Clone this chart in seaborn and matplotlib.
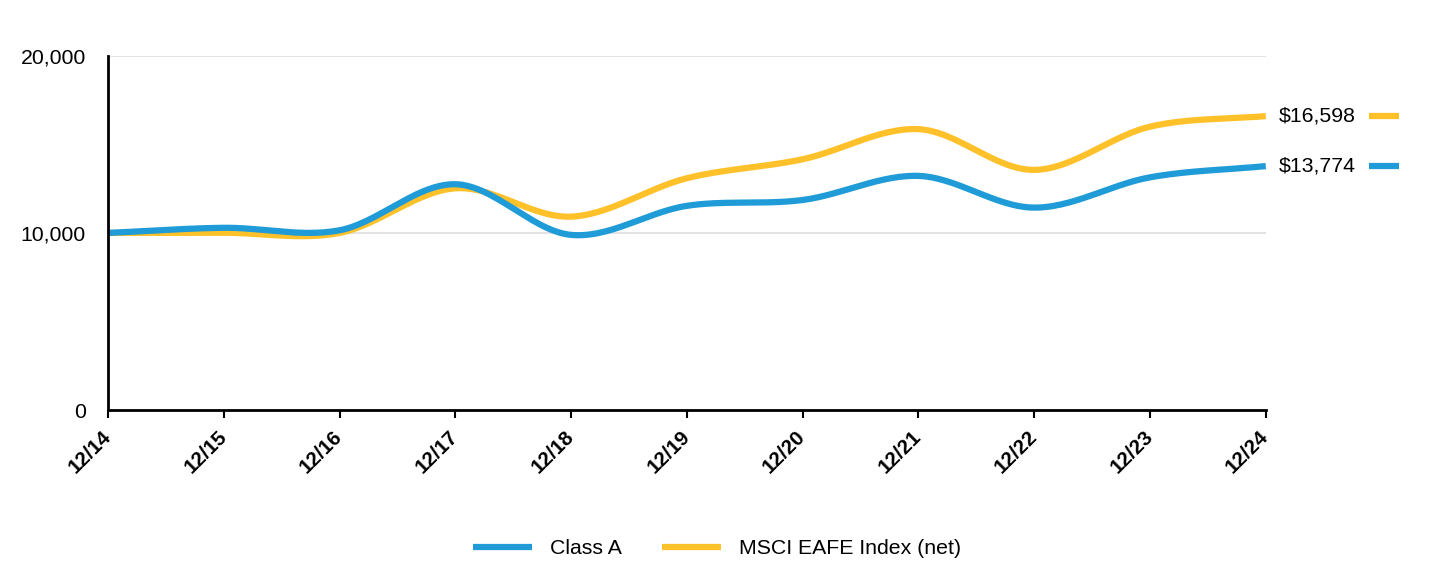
import numpy as np
import pandas as pd
import matplotlib
matplotlib.use("Agg")
import matplotlib.pyplot as plt
import matplotlib.transforms as mtransforms
from matplotlib.lines import Line2D
import seaborn as sns

# =========================================
#  Data (growth of $10,000)
# =========================================
periods = ["12/14", "12/15", "12/16", "12/17", "12/18", "12/19",
           "12/20", "12/21", "12/22", "12/23", "12/24"]
class_a = [10000, 10290, 10150, 12750, 9890, 11530, 11860, 13220, 11430, 13140, 13774]
msci_eafe = [10000, 10010, 10000, 12520, 10920, 13090, 14160, 15860, 13560, 16000, 16598]

series_names = ["Class A", "MSCI EAFE Index (net)"]
series_colors = ["#1F9BD7", "#FFC12A"]
end_labels = ["$13,774", "$16,598"]

y_ticks = [0, 10000, 20000]
y_tick_labels = ["0", "10,000", "20,000"]


def smooth_curve(values, steps=30):
    # Catmull-Rom style spline, only used for drawing the line
    y = np.asarray(values, dtype=float)
    n = len(y)
    m = np.zeros(n)
    m[1:-1] = (y[2:] - y[:-2]) / 2.0
    m[0] = y[1] - y[0]
    m[-1] = y[-1] - y[-2]
    xs, ys = [], []
    for i in range(n - 1):
        t = np.linspace(0, 1, steps, endpoint=False)
        h00 = 2 * t**3 - 3 * t**2 + 1
        h10 = t**3 - 2 * t**2 + t
        h01 = -2 * t**3 + 3 * t**2
        h11 = t**3 - t**2
        xs.append(i + t)
        ys.append(h00 * y[i] + h10 * m[i] + h01 * y[i + 1] + h11 * m[i + 1])
    xs.append(np.array([n - 1.0]))
    ys.append(np.array([y[-1]]))
    return np.concatenate(xs), np.concatenate(ys)


frames = []
for name, vals in zip(series_names, [class_a, msci_eafe]):
    sx, sy = smooth_curve(vals)
    frames.append(pd.DataFrame({"x": sx, "value": sy, "series": name}))
df = pd.concat(frames, ignore_index=True)

sns.set_style("white")
plt.rcParams["font.family"] = ["Liberation Sans", "DejaVu Sans"]
plt.rcParams["text.color"] = "black"
plt.rcParams["xtick.color"] = "black"
plt.rcParams["ytick.color"] = "black"

fig = plt.figure(figsize=(14.4, 5.64), dpi=100)
ax = fig.add_axes([0.075, 0.273, 0.804, 0.628])

# draw MSCI first so Class A sits on top like the original
sns.lineplot(data=df[df["series"] == series_names[1]], x="x", y="value",
             color=series_colors[1], linewidth=4.5, ax=ax, legend=False,
             solid_capstyle="butt", sort=False)
sns.lineplot(data=df[df["series"] == series_names[0]], x="x", y="value",
             color=series_colors[0], linewidth=4.5, ax=ax, legend=False,
             solid_capstyle="butt", sort=False)

ax.set_xlim(0, len(periods) - 1)
ax.set_ylim(0, 20000)
ax.set_xticks(range(len(periods)))
ax.set_xticklabels(periods, rotation=45, ha="right", va="center",
                   rotation_mode="anchor", fontsize=14.8, fontweight="bold")
ax.set_yticks(y_ticks)
ax.set_yticklabels(y_tick_labels, fontsize=15.3)
ax.set_xlabel("")
ax.set_ylabel("")

ax.yaxis.grid(True, color="#E0E0E0", linewidth=1.3)
ax.set_axisbelow(True)
ax.tick_params(axis="y", left=False, length=0, pad=16)
ax.tick_params(axis="x", bottom=True, length=6, width=1.5, color="black",
               pad=11, direction="out")

for side in ["top", "right"]:
    ax.spines[side].set_visible(False)
ax.spines["left"].set_color("black")
ax.spines["left"].set_linewidth(2)
ax.spines["bottom"].set_color("black")
ax.spines["bottom"].set_linewidth(2)

# end value labels with short colored markers
trans = mtransforms.blended_transform_factory(ax.transAxes, ax.transData)
for vals, color, label in zip([class_a, msci_eafe], series_colors, end_labels):
    ax.text(1.011, vals[-1], label, transform=trans, fontsize=15.3,
            va="center", ha="left", clip_on=False)
    ax.add_line(Line2D([1.0895, 1.1155], [vals[-1], vals[-1]], transform=trans,
                       color=color, linewidth=4.5, clip_on=False,
                       solid_capstyle="butt"))

handles = [Line2D([0], [0], color=c, linewidth=4.5, solid_capstyle="butt")
           for c in series_colors]
fig.legend(handles, series_names, loc="center", bbox_to_anchor=(0.498, 0.027),
           ncol=2, frameon=False, fontsize=15.3, handlelength=2.8,
           columnspacing=1.85, handletextpad=0.85)

fig.savefig("out.png", dpi=100)
plt.close(fig)
